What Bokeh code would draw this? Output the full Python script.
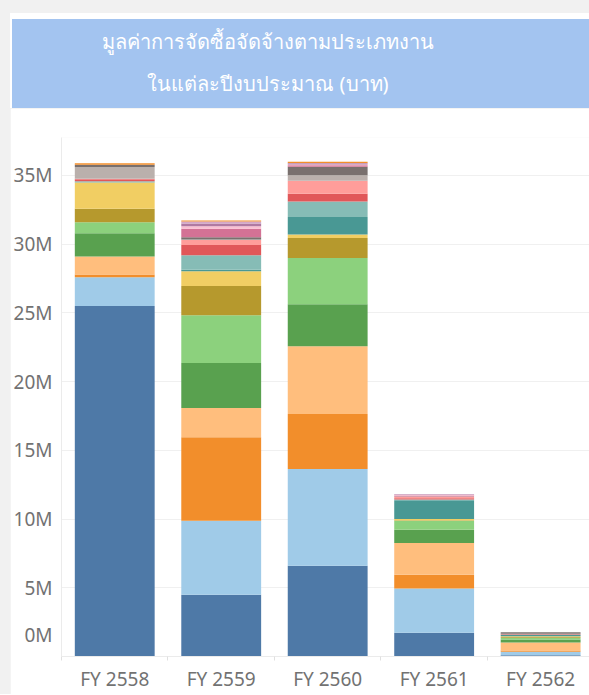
from bokeh.plotting import figure
from bokeh.models import ColumnDataSource, Range1d, FixedTicker, Div
from bokeh.layouts import column
from bokeh.embed import file_html
from bokeh.resources import INLINE

title_lines = ["มูลค่าการจัดซื้อจัดจ้างตามประเภทงาน", "ในแต่ละปีงบประมาณ (บาท)"]
years = ["FY 2558", "FY 2559", "FY 2560", "FY 2561", "FY 2562"]
y_ticks = [0, 5, 10, 15, 20, 25, 30, 35]
y_tick_labels = ["0M", "5M", "10M", "15M", "20M", "25M", "30M", "35M"]

# values in millions of baht, per work type (stack order bottom -> top)
s01 = [25.50, 4.50, 6.61, 1.72, 0.10]
s02 = [2.10, 5.37, 7.04, 3.22, 0.24]
s03 = [0.20, 6.08, 3.99, 1.00, 0.10]
s04 = [1.30, 2.13, 4.94, 2.32, 0.58]
s05 = [1.70, 3.27, 3.05, 0.97, 0.22]
s06 = [0.80, 3.47, 3.36, 0.65, 0.12]
s07 = [0.97, 2.14, 1.45, 0.04, 0.05]
s08 = [1.91, 1.07, 0.27, 0.08, 0.06]
s09 = [0.02, 0.10, 1.26, 1.36, 0.10]
s10 = [0.08, 1.07, 1.14, 0.06, 0.03]
s11 = [0.15, 0.73, 0.56, 0.10, 0.03]
s12 = [0.02, 0.38, 0.94, 0.10, 0.02]
s13 = [0.87, 0.03, 0.41, 0.01, 0.01]
s14 = [0.15, 0.17, 0.61, 0.01, 0.10]
s15 = [0.01, 0.61, 0.12, 0.08, 0.00]
s16 = [0.00, 0.19, 0.05, 0.05, 0.00]
s17 = [0.00, 0.19, 0.08, 0.03, 0.00]
s18 = [0.00, 0.15, 0.02, 0.02, 0.00]
s19 = [0.10, 0.07, 0.10, 0.00, 0.00]

series = [s01, s02, s03, s04, s05, s06, s07, s08, s09, s10,
          s11, s12, s13, s14, s15, s16, s17, s18, s19]
colors = ["#4e79a7", "#a0cbe8", "#f28e2b", "#ffbe7d", "#59a14f", "#8cd17d",
          "#b6992d", "#f1ce63", "#499894", "#86bcb6", "#e15759", "#ff9d9a",
          "#bab0ac", "#79706e", "#d37295", "#fabfd2", "#b07aa1", "#d4a6c8",
          "#f28e2b"]
names = ["t%02d" % (i + 1) for i in range(len(series))]

xs = [i + 0.5 for i in range(len(years))]
data = {"x": xs}
for n, s in zip(names, series):
    data[n] = s
source = ColumnDataSource(data)

FONT = "Noto Sans"
LABEL_COLOR = "#727272"

title = Div(
    text=title_lines[0] + "<br>" + title_lines[1],
    width=579, height=95, margin=(13, 0, 0, 10),
    styles={
        "background-color": "#a3c4f0",
        "border-top": "6px solid white",
        "border-left": "2px solid white",
        "color": "white",
        "font-size": "20px",
        "font-family": "'Noto Sans', sans-serif",
        "text-align": "center",
        "line-height": "42px",
        "padding": "2px 65px 0px 0px",
        "box-sizing": "border-box",
    },
)

p = figure(
    width=579, height=586, margin=(0, 0, 0, 10),
    x_range=Range1d(0, 4.959), y_range=Range1d(0, 37.76),
    output_backend="svg", toolbar_location=None,
    min_border_left=50, min_border_right=0, min_border_top=29, min_border_bottom=37,
)
p.outline_line_color = None
p.background_fill_color = "white"
p.border_fill_color = "white"

p.vbar_stack(names, x="x", width=0.75, source=source, color=colors, line_width=0)

# y axis (Tableau draws the lowest label lifted above the baseline)
label_pos = [1.6] + y_ticks[1:]
p.yaxis.ticker = FixedTicker(ticks=label_pos)
p.yaxis.major_label_overrides = {t: l for t, l in zip(label_pos, y_tick_labels)}
p.yaxis.axis_line_color = "#ebebeb"
p.yaxis.major_tick_line_color = None
p.yaxis.major_tick_in = 0
p.yaxis.major_tick_out = 7
p.yaxis.minor_tick_line_color = None
p.yaxis.major_label_standoff = 2
p.yaxis.major_label_text_font = FONT
p.yaxis.major_label_text_font_size = "19px"
p.yaxis.major_label_text_color = LABEL_COLOR

# x axis
p.xaxis.ticker = FixedTicker(ticks=xs, minor_ticks=list(range(len(years))))
p.xaxis.major_label_overrides = {x: y for x, y in zip(xs, years)}
p.xaxis.axis_line_color = "#ebebeb"
p.xaxis.major_tick_line_color = None
p.xaxis.major_tick_out = 0
p.xaxis.major_tick_in = 0
p.xaxis.minor_tick_line_color = "#e0e0e0"
p.xaxis.minor_tick_out = 4
p.xaxis.minor_tick_in = 0
p.xaxis.major_label_standoff = 5
p.xaxis.major_label_text_font = FONT
p.xaxis.major_label_text_font_size = "19px"
p.xaxis.major_label_text_color = LABEL_COLOR

p.xgrid.grid_line_color = None
p.ygrid.grid_line_color = "#f0f0f0"
p.ygrid.ticker = FixedTicker(ticks=y_ticks)

layout = column(title, p, spacing=0, styles={"background-color": "#f1f1f1"})
open("out.html", "w").write(file_html(layout, INLINE))
